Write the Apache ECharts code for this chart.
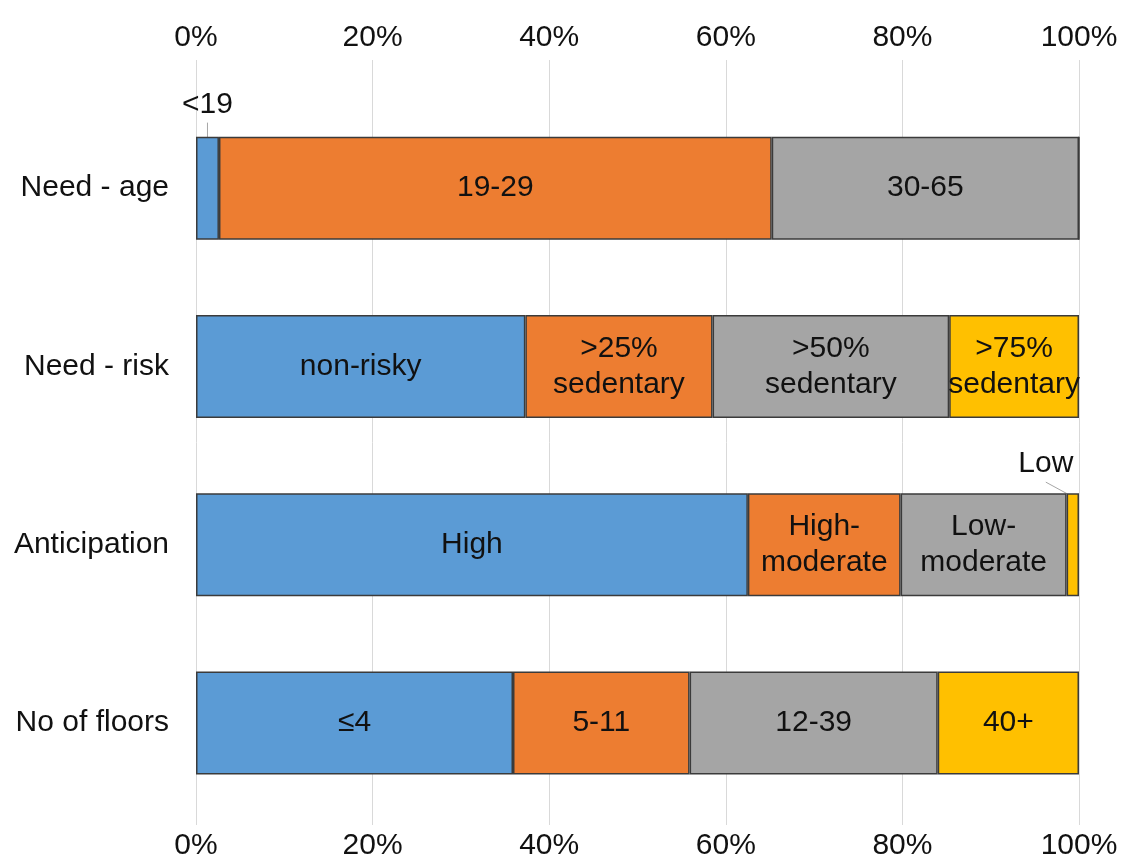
<!DOCTYPE html>
<html>
<head>
<meta charset="utf-8">
<script src="https://cdn.jsdelivr.net/npm/echarts@6/dist/echarts.min.js"></script>
<style>
  html, body { margin: 0; padding: 0; background: #fff; }
  #chart { width: 1130px; height: 863px; }
</style>
</head>
<body>
<div id="chart"></div>
<script>
// Row categories, top to bottom
const categories = ['Need - age', 'Need - risk', 'Anticipation', 'No of floors'];

// Share (%) of each segment, in stacking order
const seg1 = [2.6, 37.3, 62.5, 35.9];
const seg2 = [62.6, 21.2, 17.3, 20.0];
const seg3 = [34.8, 26.8, 18.8, 28.1];
const seg4 = [0, 14.7, 1.4, 16.0];

// Text shown on each segment
const lab1 = ['<19', 'non-risky', 'High', '≤4'];
const lab2 = ['19-29', '>25%\nsedentary', 'High-\nmoderate', '5-11'];
const lab3 = ['30-65', '>50%\nsedentary', 'Low-\nmoderate', '12-39'];
const lab4 = ['', '>75%\nsedentary', 'Low', '40+'];

// Axis ticks
const tickMin = 0, tickMax = 100, tickStep = 20;

const FONT = '"Liberation Sans", Arial, sans-serif';
const FONT_SIZE = 30;
const colors = ['#5B9BD5', '#ED7D31', '#A5A5A5', '#FFC000'];

// Segments too narrow to hold their label: label sits above with a leader line
const outside = { '0-0': { dx: 0, dy: -12 }, '3-2': { dx: -27, dy: -9 } };

function makeSeries(idx, values, labels) {
  return {
    type: 'bar',
    stack: 'total',
    xAxisIndex: 2,
    yAxisIndex: 1,
    barWidth: 103,
    itemStyle: { color: colors[idx], borderColor: '#3b3b3b', borderWidth: 1.5 },
    data: values.map((v, i) => {
      const key = idx + '-' + i;
      const d = { value: v };
      if (outside[key]) {
        d.label = { position: 'top', distance: 2 };
        d.labelLine = { show: true, lineStyle: { color: '#a6a6a6', width: 1 } };
      }
      return d;
    }),
    label: {
      show: true,
      position: 'inside',
      formatter: p => labels[p.dataIndex],
      color: '#111',
      fontFamily: FONT,
      fontSize: FONT_SIZE,
      lineHeight: 36
    },
    labelLine: { show: false },
    labelLayout: p => {
      const o = outside[idx + '-' + p.dataIndex];
      return o ? { dx: o.dx, dy: o.dy } : {};
    }
  };
}

const axisText = { color: '#111', fontFamily: FONT, fontSize: FONT_SIZE };

const chart = echarts.init(document.getElementById('chart'), null, { renderer: 'canvas' });
chart.setOption({
  animation: false,
  backgroundColor: '#fff',
  grid: [
    { left: 196, right: 51, top: 60, bottom: 38 },
    { left: 196, right: 51, top: 99, bottom: 51 }
  ],
  xAxis: [
    {
      gridIndex: 0, type: 'value', position: 'top',
      min: tickMin, max: tickMax, interval: tickStep,
      axisLine: { show: false }, axisTick: { show: false },
      axisLabel: Object.assign({ formatter: '{value}%', margin: 7 }, axisText),
      splitLine: { show: true, lineStyle: { color: '#d9d9d9', width: 1 } }
    },
    {
      gridIndex: 0, type: 'value', position: 'bottom',
      min: tickMin, max: tickMax, interval: tickStep,
      axisLine: { show: false }, axisTick: { show: false },
      axisLabel: Object.assign({ formatter: '{value}%', margin: 6 }, axisText),
      splitLine: { show: false }
    },
    {
      gridIndex: 1, type: 'value', min: tickMin, max: tickMax, show: false
    }
  ],
  yAxis: [
    { gridIndex: 0, type: 'value', show: false },
    {
      gridIndex: 1, type: 'category', data: categories, inverse: true,
      axisLine: { show: false }, axisTick: { show: false },
      axisLabel: Object.assign({ margin: 27 }, axisText),
      splitLine: { show: false }
    }
  ],
  series: [
    makeSeries(0, seg1, lab1),
    makeSeries(1, seg2, lab2),
    makeSeries(2, seg3, lab3),
    makeSeries(3, seg4, lab4)
  ]
});
</script>
</body>
</html>
